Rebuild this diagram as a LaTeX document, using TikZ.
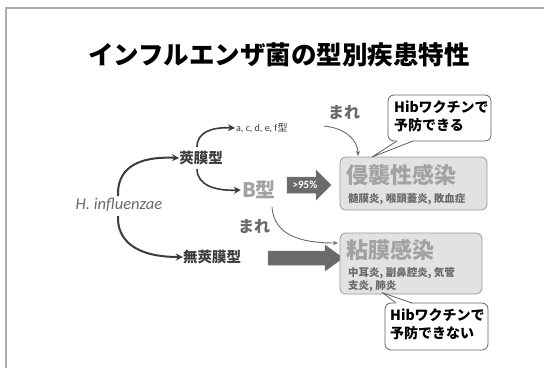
\documentclass[tikz,border=0pt]{standalone}
\usepackage{fontspec}
\newfontfamily\cjk{Noto Sans CJK JP}
\newfontfamily\lat{Carlito}
\usetikzlibrary{arrows.meta}
\definecolor{dk}{HTML}{3C3C3C}
\definecolor{md}{HTML}{6A6A6A}
\definecolor{lt}{HTML}{A2A2A2}
\definecolor{boxfill}{HTML}{E2E2E2}
\definecolor{boxline}{HTML}{9A9A9A}
\tikzset{
  jp/.style={font=\cjk\bfseries\fontsize{#1}{\dimexpr#1pt*5/4\relax}\selectfont, inner sep=0pt},
  flow/.style={draw=dk, line width=2pt, -{Stealth[length=7pt,width=7pt]}},
  thin/.style={draw=md, line width=0.9pt, -{Stealth[length=5pt,width=4pt]}},
  infbox/.style={draw=boxline, fill=boxfill, rounded corners=6pt, line width=0.8pt},
  callbox/.style={draw=dk!80, fill=white, rounded corners=6pt, line width=0.8pt},
  blockarrow/.style={fill=md, draw=dk!70, line width=0.5pt}
}
\begin{document}
\begin{tikzpicture}[x=1pt,y=-1pt]
\fill[white] (0,0) rectangle (544,368);
\useasboundingbox (0,0) rectangle (544,368);
\draw[gray!65, line width=1.3pt] (6,368) -- (6,8) -- (544,8);

% title
\node[jp=25.5, text=black] (title) at (279,55) {インフルエンザ菌の型別疾患特性};

% left tree
\node[font=\lat\itshape\fontsize{16.5}{18}\selectfont, text=md, inner sep=1pt] (hinf) at (119,205) {H. influenzae};
\node[jp=14.5, text=dk] (kyo) at (201,158) {莢膜型};
\node[jp=14.5, text=dk] (mukyo) at (212,257) {無莢膜型};
\node[font=\lat\fontsize{10}{12}\selectfont, text=dk, inner sep=1pt, anchor=west] (acdef) at (235,128) {a, c, d, e, f\cjk 型};
\node[font=\cjk\bfseries\fontsize{20}{23}\selectfont, text=lt, inner sep=1pt] (btype) at (259,190) {B型};

\coordinate (h1) at (118,196);
\coordinate (h2) at (118,216);
\draw[flow] (h1) .. controls (117,170) and (135,156) .. (kyo.west);
\draw[flow] (h2) .. controls (117,240) and (135,257) .. (mukyo.west);
\coordinate (k1) at (197,147);
\coordinate (k2) at (197,169);
\draw[flow, line width=1.6pt] (k1) .. controls (197,132) and (212,127) .. (acdef.west);
\draw[flow, line width=1.6pt] (k2) .. controls (197,185) and (215,191) .. (btype.west);

% block arrows
\path[blockarrow] (287,177) -- (316,177) -- (316,170) -- (331,185) -- (316,200) -- (316,193) -- (287,193) -- cycle;
\node[font=\lat\bfseries\fontsize{11}{12}\selectfont, text=white, inner sep=0pt] (pct) at (305,185) {>95\%};
\path[blockarrow] (268,251) -- (325,251) -- (325,245) -- (343,258) -- (325,271) -- (325,265) -- (268,265) -- cycle;

% boxes
\path[infbox] (340,157) rectangle (487,210);
\node[jp=22, text=lt, anchor=west] (inv) at (346,175) {侵襲性感染};
\node[jp=10.5, text=md, anchor=west] (invsub) at (348,199) {髄膜炎, 喉頭蓋炎, 敗血症};
\coordinate (invtop) at (358,156);

\path[infbox] (340,233) rectangle (482,294);
\node[jp=22, text=lt, anchor=west] (muc) at (346,250) {粘膜感染};
\node[jp=10.5, text=md, anchor=north west, align=left] (mucsub) at (348,267) {中耳炎, 副鼻腔炎, 気管\\支炎, 肺炎};
\coordinate (mucleft) at (338,243);

% mare
\node[jp=16, text=md] (mare1) at (344,112) {まれ};
\node[jp=16, text=md] (mare2) at (254,226) {まれ};
\coordinate (m1) at (324,126);
\coordinate (m2) at (272,207);
\draw[thin] (m1) .. controls (345,128) and (358,140) .. (invtop);
\draw[thin] (m2) .. controls (274,235) and (300,243) .. (mucleft);

% callouts
\path[callbox] (388,95) rectangle (491,141);
\fill[white] (397,140.2) -- (372,157) -- (413,140.2) -- cycle;
\draw[dk!80, line width=0.8pt] (397,141) -- (372,157) -- (413,141);
\node[jp=14, text=black, anchor=north west, align=left] (call1) at (394,101) {Hibワクチンで\\予防できる};

\path[callbox] (385,303) rectangle (488,350);
\fill[white] (396,303.8) -- (383,293) -- (412,303.8) -- cycle;
\draw[dk!80, line width=0.8pt] (396,303) -- (383,293) -- (412,303);
\node[jp=14, text=black, anchor=north west, align=left] (call2) at (390,309) {Hibワクチンで\\予防できない};
\end{tikzpicture}
\end{document}
